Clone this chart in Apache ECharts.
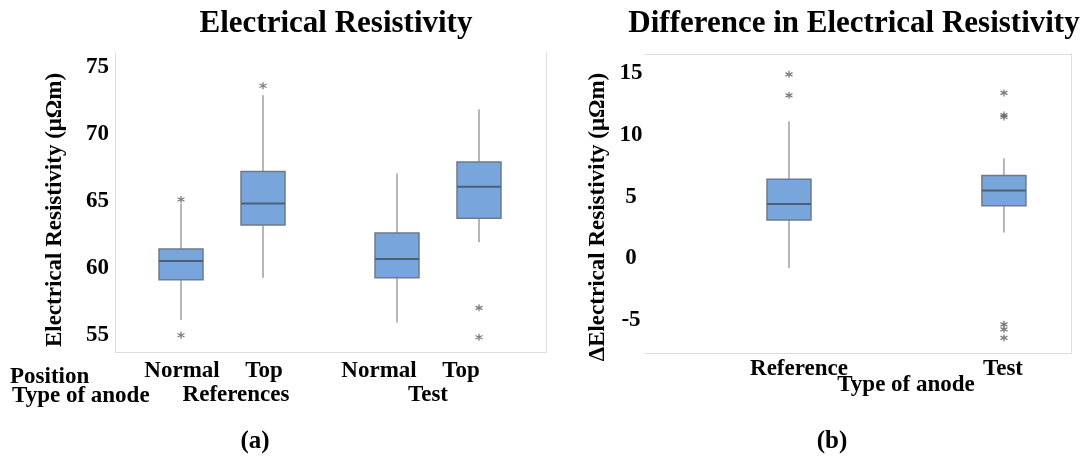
<!DOCTYPE html>
<html>
<head>
<meta charset="utf-8">
<script src="https://cdn.jsdelivr.net/npm/echarts@6/dist/echarts.min.js"></script>
<style>
  html, body { margin: 0; padding: 0; background: #fff; }
  #chart { width: 1089px; height: 459px; }
</style>
</head>
<body>
<div id="chart"></div>
<script>
// ---------------- data ----------------
const positionLabels = ['Normal', 'Top'];
const anodeGroups = ['References', 'Test'];
// [min, Q1, median, Q3, max] for Ref-Normal, Ref-Top, Test-Normal, Test-Top
const resistivityBoxes = [
  [56.1, 59.1, 60.5, 61.4, 64.8],
  [59.25, 63.2, 64.8, 67.2, 72.9],
  [55.9, 59.25, 60.65, 62.6, 67.05],
  [61.9, 63.7, 66.05, 67.9, 71.85]
];
const resistivityOutliers = [
  [65.1, 54.95],
  [73.6],
  [],
  [57.0, 54.8]
];
const leftTicks = [55, 60, 65, 70, 75];

const diffCategories = ['Reference', 'Test'];
const diffBoxes = [
  [-0.8, 3.1, 4.4, 6.4, 11.1],
  [2.1, 4.25, 5.5, 6.7, 8.1]
];
const diffOutliers = [
  [14.9, 13.2],
  [13.4, 11.6, 11.45, -5.35, -5.75, -6.45]
];
const rightTicks = [-5, 0, 5, 10, 15];

// ---------------- styling / layout ----------------
const FONT = 'Liberation Serif, Times New Roman, serif';
const BORDER = '#dcdcdc';
const groupGap = 1.634;   // distance between last box of References and first box of Test (x units)

const leftX = resistivityBoxes.map((_, i) => (i % 2) + Math.floor(i / 2) * (1 + groupGap));
const rightX = diffBoxes.map((_, i) => i + 1);

function boxData(xs, boxes) {
  return boxes.map((b, i) => [xs[i]].concat(b));
}
function outlierData(xs, outs) {
  const r = [];
  outs.forEach((arr, i) => arr.forEach(v => r.push([xs[i], v])));
  return r;
}

function renderBox(params, api) {
  const x = api.value(0);
  const py = v => api.coord([x, v])[1];
  const cx = api.coord([x, api.value(3)])[0];
  const yMin = py(api.value(1)), yQ1 = py(api.value(2)), yMed = py(api.value(3)),
        yQ3 = py(api.value(4)), yMax = py(api.value(5));
  const half = 22;
  return {
    type: 'group',
    children: [
      { type: 'line', shape: { x1: cx, y1: yMax, x2: cx, y2: yMin },
        style: { stroke: '#a5a5a5', lineWidth: 1.6 } },
      { type: 'rect', shape: { x: cx - half, y: yQ3, width: 2 * half, height: yQ1 - yQ3 },
        style: { fill: '#78a6dc', stroke: '#6d7a8a', lineWidth: 1.5 } },
      { type: 'line', shape: { x1: cx - half, y1: yMed, x2: cx + half, y2: yMed },
        style: { stroke: '#4d5f77', lineWidth: 2 } }
    ]
  };
}

const asterisk = 'path://M0,-5L0,5M-4.3,-2.5L4.3,2.5M-4.3,2.5L4.3,-2.5';
const outlierStyle = { color: 'transparent', borderColor: '#5e5e5e', borderWidth: 1.3 };

const labelStyle = { fontFamily: FONT, fontWeight: 'bold', fontSize: 23, color: '#000' };

function txt(text, x, y, align, size) {
  return {
    type: 'text', x: x, y: y,
    style: { text: text, font: 'bold ' + (size || 23) + 'px ' + FONT, fill: '#000',
             align: align || 'center', verticalAlign: 'middle' }
  };
}

const chart = echarts.init(document.getElementById('chart'), null, { renderer: 'canvas' });

const option = {
  backgroundColor: '#fff',
  animation: false,
  title: [
    { text: 'Electrical Resistivity', left: 331, top: 3, textAlign: 'center',
      textStyle: { fontFamily: FONT, fontWeight: 'bold', fontSize: 31, color: '#000' } },
    { text: 'Difference in Electrical Resistivity', left: 849, top: 3, textAlign: 'center',
      textStyle: { fontFamily: FONT, fontWeight: 'bold', fontSize: 31, color: '#000' } }
  ],
  grid: [
    { left: 115, right: 543, top: 53, bottom: 107 },
    { left: 645, right: 18, top: 54, bottom: 106 }
  ],
  xAxis: [
    { gridIndex: 0, type: 'value', min: -0.805, max: 4.451, position: 'bottom',
      axisLine: { show: true, onZero: false, lineStyle: { color: BORDER, width: 1 } },
      axisTick: { show: false }, axisLabel: { show: false }, splitLine: { show: false } },
    { gridIndex: 1, type: 'value', min: 0.33, max: 2.312, position: 'bottom',
      axisLine: { show: true, onZero: false, lineStyle: { color: BORDER, width: 1 } },
      axisTick: { show: false }, axisLabel: { show: false }, splitLine: { show: false } },
    { gridIndex: 1, type: 'value', min: 0, max: 1, position: 'top',
      axisLine: { show: true, onZero: false, lineStyle: { color: BORDER, width: 1 } },
      axisTick: { show: false }, axisLabel: { show: false }, splitLine: { show: false } }
  ],
  yAxis: [
    { gridIndex: 0, type: 'value', min: 53.7, max: 76.05, position: 'left',
      name: 'Electrical Resistivity (μΩm)', nameLocation: 'middle', nameGap: 48, nameRotate: 90,
      nameTextStyle: Object.assign({ padding: [0, 15, 0, 0] }, labelStyle),
      axisLine: { show: true, onZero: false, lineStyle: { color: BORDER, width: 1 } },
      axisTick: { show: false }, splitLine: { show: false },
      axisLabel: Object.assign({ margin: 6, formatter: v => leftTicks.includes(v) ? String(v) : '' }, labelStyle) },
    { gridIndex: 0, type: 'value', min: 0, max: 1, position: 'right',
      axisLine: { show: true, onZero: false, lineStyle: { color: BORDER, width: 1 } },
      axisTick: { show: false }, axisLabel: { show: false }, splitLine: { show: false } },
    { gridIndex: 1, type: 'value', min: -7.67, max: 16.55, position: 'left',
      name: 'ΔElectrical Resistivity (μΩm)', nameLocation: 'middle', nameGap: 35, nameRotate: 90,
      nameTextStyle: Object.assign({ padding: [0, 27, 0, 0] }, labelStyle),
      axisLine: { show: false }, axisTick: { show: false }, splitLine: { show: false },
      axisLabel: Object.assign({ margin: 14, align: 'center', formatter: v => rightTicks.includes(v) ? String(v) : '' }, labelStyle) },
    { gridIndex: 1, type: 'value', min: 0, max: 1, position: 'right',
      axisLine: { show: true, onZero: false, lineStyle: { color: BORDER, width: 1 } },
      axisTick: { show: false }, axisLabel: { show: false }, splitLine: { show: false } }
  ],
  series: [
    { type: 'custom', name: 'Electrical Resistivity', xAxisIndex: 0, yAxisIndex: 0,
      renderItem: renderBox, encode: { x: 0, y: [1, 2, 3, 4, 5] },
      data: boxData(leftX, resistivityBoxes), z: 2 },
    { type: 'scatter', xAxisIndex: 0, yAxisIndex: 0, symbol: asterisk, symbolSize: 7,
      itemStyle: outlierStyle, data: outlierData(leftX, resistivityOutliers), z: 3 },
    { type: 'custom', name: 'Difference', xAxisIndex: 1, yAxisIndex: 2,
      renderItem: renderBox, encode: { x: 0, y: [1, 2, 3, 4, 5] },
      data: boxData(rightX, diffBoxes), z: 2 },
    { type: 'scatter', xAxisIndex: 1, yAxisIndex: 2, symbol: asterisk, symbolSize: 7,
      itemStyle: outlierStyle, data: outlierData(rightX, diffOutliers), z: 3 }
  ],
  graphic: [
    txt('Position', 10, 377, 'left'),
    txt('Type of anode', 12, 396, 'left'),
    txt(positionLabels[0], 182, 371),
    txt(positionLabels[1], 264, 371),
    txt(positionLabels[0], 379, 371),
    txt(positionLabels[1], 461, 371),
    txt(anodeGroups[0], 236, 395),
    txt(anodeGroups[1], 428, 395),
    txt('(a)', 255, 442, 'center', 25),
    txt(diffCategories[0], 799, 369),
    txt(diffCategories[1], 1003, 369),
    txt('Type of anode', 906, 385),
    txt('(b)', 832, 442, 'center', 25)
  ]
};

chart.setOption(option);
</script>
</body>
</html>
